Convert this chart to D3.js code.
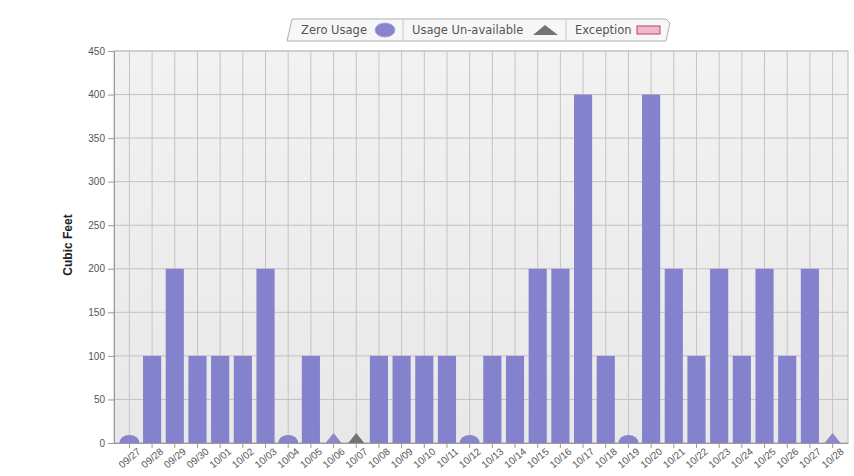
<!DOCTYPE html>
<html>
<head>
<meta charset="utf-8">
<script src="https://cdn.jsdelivr.net/npm/d3@7"></script>
<style>
  body { margin: 0; background: #fff; }
  svg { display: block; font-family: "DejaVu Sans", sans-serif; }
</style>
</head>
<body>
<div id="chart"></div>
<script>
// days shown on the x axis
var days = ['09/27','09/28','09/29','09/30','10/01','10/02','10/03','10/04','10/05','10/06',
            '10/07','10/08','10/09','10/10','10/11','10/12','10/13','10/14','10/15','10/16',
            '10/17','10/18','10/19','10/20','10/21','10/22','10/23','10/24','10/25','10/26',
            '10/27','10/28'];
// usage in cubic feet, null = no bar
var usage = [0,100,200,100,100,100,200,0,100,null,
             null,100,100,100,100,0,100,100,200,200,
             400,100,0,400,200,100,200,100,200,100,
             200,null];
// marker per day: 'zero' = circle, 'tri' = purple triangle, 'na' = usage un-available
var markers = ['zero',null,null,null,null,null,null,'zero',null,'tri',
               'na',null,null,null,null,'zero',null,null,null,null,
               null,null,'zero',null,null,null,null,null,null,null,
               null,'tri'];
var yTicks = [0,50,100,150,200,250,300,350,400,450];
var legendItems = ['Zero Usage', 'Usage Un-available', 'Exception'];

var width = 854, height = 476;
var margin = {top: 51, right: 6, bottom: 33, left: 114};

var svg = d3.select('#chart').append('svg')
  .attr('width', width).attr('height', height);

var defs = svg.append('defs');
var grad = defs.append('linearGradient').attr('id', 'bg')
  .attr('x1', 0).attr('x2', 0).attr('y1', 0).attr('y2', 1);
grad.append('stop').attr('offset', '0%').attr('stop-color', '#f2f2f2');
grad.append('stop').attr('offset', '100%').attr('stop-color', '#e8e8e8');
defs.append('clipPath').attr('id', 'plotclip').append('rect')
  .attr('x', margin.left).attr('y', margin.top)
  .attr('width', width - margin.left - margin.right)
  .attr('height', height - margin.top - margin.bottom);

var x = d3.scaleBand()
  .domain(days)
  .range([margin.left, width - margin.right])
  .paddingInner(0.2)
  .paddingOuter(0.28);

var y = d3.scaleLinear()
  .domain([0, 450])
  .range([height - margin.bottom, margin.top]);

// plot background
svg.append('rect')
  .attr('x', margin.left).attr('y', margin.top)
  .attr('width', width - margin.left - margin.right)
  .attr('height', height - margin.top - margin.bottom)
  .style('fill', 'url(#bg)')
  .style('stroke', '#bdbdbd');

// vertical gridlines at each day
svg.append('g').selectAll('line')
  .data(days)
  .enter().append('line')
  .attr('x1', function(d) { return x(d) + x.bandwidth() / 2; })
  .attr('x2', function(d) { return x(d) + x.bandwidth() / 2; })
  .attr('y1', margin.top).attr('y2', height - margin.bottom)
  .style('stroke', '#c4c4c4');

// horizontal gridlines
svg.append('g').selectAll('line')
  .data(yTicks)
  .enter().append('line')
  .attr('x1', margin.left).attr('x2', width - margin.right)
  .attr('y1', function(d) { return y(d); })
  .attr('y2', function(d) { return y(d); })
  .style('stroke', '#c2c2c2');

// bars
svg.append('g').selectAll('rect')
  .data(days.filter(function(d, i) { return usage[i] > 0; }))
  .enter().append('rect')
  .attr('x', function(d) { return x(d); })
  .attr('width', x.bandwidth())
  .attr('y', function(d) { return y(usage[days.indexOf(d)]); })
  .attr('height', function(d) { return y(0) - y(usage[days.indexOf(d)]); })
  .style('fill', '#8482cc');

// markers
var mk = svg.append('g').attr('clip-path', 'url(#plotclip)');
days.forEach(function(d, i) {
  var cx = x(d) + x.bandwidth() / 2;
  if (markers[i] == 'zero') {
    mk.append('ellipse')
      .attr('cx', cx).attr('cy', y(0))
      .attr('rx', 10).attr('ry', 8)
      .style('fill', '#8783cc');
  } else if (markers[i] == 'tri' || markers[i] == 'na') {
    mk.append('path')
      .attr('d', 'M' + (cx - 8) + ',' + y(0) + 'L' + cx + ',' + (y(0) - 10) + 'L' + (cx + 8) + ',' + y(0) + 'Z')
      .style('fill', markers[i] == 'na' ? '#75736f' : '#8d88c6');
  }
});

// y axis
var yAxis = svg.append('g')
  .attr('transform', 'translate(' + margin.left + ',0)')
  .call(d3.axisLeft(y).tickValues(yTicks).tickSize(6).tickPadding(3));
yAxis.select('.domain').style('stroke', '#9a9a9a');
yAxis.selectAll('.tick line').style('stroke', '#9a9a9a');
yAxis.selectAll('.tick text')
  .style('font-size', '10px').style('fill', '#555');

// x axis
var xAxis = svg.append('g')
  .attr('transform', 'translate(0,' + y(0) + ')')
  .call(d3.axisBottom(x).tickSize(5).tickSizeOuter(0));
xAxis.select('.domain').style('stroke', '#9a9a9a');
xAxis.selectAll('.tick line').style('stroke', '#9a9a9a');
xAxis.selectAll('.tick text')
  .style('font-size', '10px').style('fill', '#555')
  .style('text-anchor', 'end')
  .attr('dx', '0.3em').attr('dy', '0.7em')
  .attr('transform', 'rotate(-40)');

// y title
svg.append('text')
  .attr('transform', 'translate(72,245) rotate(-90)')
  .attr('text-anchor', 'middle')
  .style('font-family', '"Liberation Sans", Arial, sans-serif')
  .style('font-weight', 'bold')
  .style('font-size', '12px')
  .style('fill', '#222')
  .text('Cubic Feet');

// legend
var lg = svg.append('g');
lg.append('path')
  .attr('d', 'M292,19 L666,19 L670,23 L666,41 L287,41 Z')
  .style('fill', '#f7f7f7').style('stroke', '#b0b0b0');
lg.append('line').attr('x1', 403).attr('x2', 403).attr('y1', 19).attr('y2', 41).style('stroke', '#c8c8c8');
lg.append('line').attr('x1', 566).attr('x2', 566).attr('y1', 19).attr('y2', 41).style('stroke', '#c8c8c8');
var lgX = [301, 412, 575];
legendItems.forEach(function(t, i) {
  lg.append('text')
    .attr('x', lgX[i]).attr('y', 34)
    .style('font-size', '11.5px').style('fill', '#555')
    .text(t);
});
lg.append('ellipse').attr('cx', 385).attr('cy', 30).attr('rx', 10).attr('ry', 7)
  .style('fill', '#8783cc').style('stroke', '#a9a6dd');
lg.append('path').attr('d', 'M533,35 L545,25 L558,35 Z').style('fill', '#75736f');
lg.append('rect').attr('x', 637).attr('y', 26).attr('width', 23).attr('height', 8)
  .style('fill', '#f2b8c8').style('stroke', '#b04a70');
</script>
</body>
</html>
